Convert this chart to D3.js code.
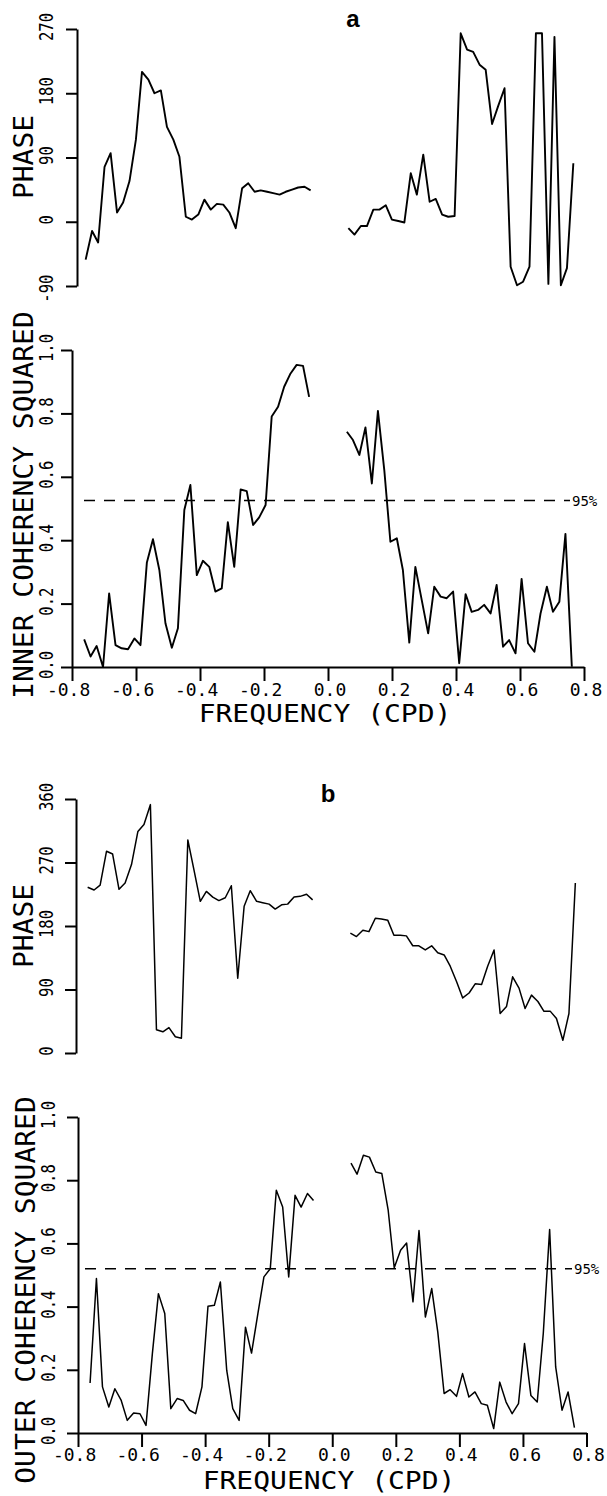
<!DOCTYPE html>
<html>
<head>
<meta charset="utf-8">
<script src="https://cdn.jsdelivr.net/npm/d3@7"></script>
<style>
  html, body { margin: 0; padding: 0; background: #fff; }
  svg { display: block; }
  text { font-family: "DejaVu Sans Mono", monospace; fill: #000; }
</style>
</head>
<body>
<svg id="chart" width="607" height="1496"></svg>
<script>
// frequency grid (cycles per day), negative and positive halves
const freqNeg = [-0.762, -0.742, -0.723, -0.703, -0.684, -0.664, -0.645, -0.625, -0.605, -0.586,
  -0.566, -0.547, -0.527, -0.508, -0.488, -0.469, -0.449, -0.430, -0.410, -0.391, -0.371, -0.352,
  -0.332, -0.313, -0.293, -0.273, -0.254, -0.234, -0.215, -0.195, -0.176, -0.156, -0.137, -0.117,
  -0.098, -0.078, -0.059];
const freqPos = [0.059, 0.078, 0.098, 0.117, 0.137, 0.156, 0.176, 0.195, 0.215, 0.234, 0.254,
  0.273, 0.293, 0.313, 0.332, 0.352, 0.371, 0.391, 0.410, 0.430, 0.449, 0.469, 0.488, 0.508,
  0.527, 0.547, 0.566, 0.586, 0.605, 0.625, 0.645, 0.664, 0.684, 0.703, 0.723, 0.742, 0.762];

// panel a : phase (degrees) and inner coherency squared
const phaseANeg = [-53, -13, -29, 77, 96, 13, 27, 57, 115, 210, 199, 180, 184, 133, 115, 91, 7, 3,
  10, 31, 17, 25, 24, 13, -9, 47, 54, 42, 44, 42, 40, 38, 42, 45, 48, 49, 44];
const phaseAPos = [-9, -18, -6, -6, 17, 17, 23, 3, 1, -1, 68, 38, 94, 28, 32, 10, 7, 8, 264, 241,
  238, 220, 213, 137, 162, 187, -63, -89, -84, -63, 264, 264, -87, 259, -89, -65, 82];
const cohANeg = [0.087, 0.033, 0.066, 0.0, 0.232, 0.069, 0.059, 0.056, 0.09, 0.069, 0.33, 0.403,
  0.306, 0.138, 0.061, 0.122, 0.495, 0.574, 0.29, 0.335, 0.316, 0.238, 0.248, 0.457, 0.316, 0.56,
  0.555, 0.448, 0.472, 0.511, 0.79, 0.821, 0.884, 0.926, 0.953, 0.95, 0.852];
const cohAPos = [0.742, 0.716, 0.669, 0.756, 0.579, 0.808, 0.62, 0.395, 0.406, 0.306, 0.077, 0.316,
  0.211, 0.106, 0.253, 0.222, 0.217, 0.238, 0.012, 0.23, 0.174, 0.18, 0.196, 0.169, 0.259, 0.064,
  0.085, 0.043, 0.278, 0.075, 0.048, 0.168, 0.253, 0.174, 0.206, 0.42, 0.001];

// panel b : phase (degrees) and outer coherency squared
const phaseBNeg = [235, 231, 238, 286, 282, 232, 241, 267, 314, 324, 352, 33, 30, 36, 23, 21, 302,
  260, 215, 229, 221, 216, 220, 237, 106, 208, 230, 215, 213, 211, 204, 210, 211, 221, 222, 225, 217];
const phaseBPos = [170, 165, 174, 172, 191, 190, 188, 167, 167, 166, 152, 152, 146, 152, 142, 139,
  123, 101, 78, 85, 98, 97, 123, 146, 56, 66, 108, 92, 63, 82, 73, 59, 59, 49, 18, 56, 241];
const cohBNeg = [0.158, 0.489, 0.146, 0.082, 0.14, 0.103, 0.04, 0.063, 0.061, 0.024, 0.251, 0.441,
  0.378, 0.077, 0.109, 0.103, 0.072, 0.061, 0.146, 0.401, 0.404, 0.478, 0.198, 0.077, 0.04, 0.335,
  0.253, 0.378, 0.494, 0.52, 0.768, 0.715, 0.494, 0.752, 0.715, 0.758, 0.736];
const cohBPos = [0.854, 0.819, 0.879, 0.873, 0.826, 0.821, 0.705, 0.523, 0.578, 0.601, 0.415, 0.641,
  0.367, 0.457, 0.32, 0.125, 0.137, 0.116, 0.188, 0.114, 0.13, 0.093, 0.088, 0.014, 0.161, 0.098,
  0.061, 0.093, 0.283, 0.119, 0.098, 0.315, 0.644, 0.209, 0.072, 0.13, 0.017];

// tick labels
const phaseTicksA = [-90, 0, 90, 180, 270];
const phaseTicksB = [0, 90, 180, 270, 360];
const cohTicks = [0, 0.2, 0.4, 0.6, 0.8, 1.0];
const freqTicks = [-0.8, -0.6, -0.4, -0.2, 0, 0.2, 0.4, 0.6, 0.8];
const sigA = 0.525, sigB = 0.52; // 95% significance level

const svg = d3.select("#chart");

const monoAdv = 0.602; // advance width of DejaVu Sans Mono per em

// y-axis: minor and major ticks get their own length, labels rotated
const drawYAxis = (g, y, axisX, major, minor, fmt, labelX) => {
  const ax = g.append("g").attr("transform", `translate(${axisX},0)`);
  ax.call(d3.axisLeft(y).tickValues(minor).tickSize(6).tickSizeOuter(0).tickFormat(""));
  ax.call(d3.axisLeft(y).tickValues(major).tickSize(11).tickSizeOuter(0).tickFormat(""));
  ax.selectAll("path, line").attr("stroke", "#000").attr("stroke-width", 2);
  ax.selectAll("text").remove();

  const fs = 20, sx = 0.78;
  g.selectAll(null)
    .data(major)
    .join("text")
    .attr("transform", d => `translate(${labelX},${y(d) - 2}) rotate(-90) scale(${sx},1)`)
    .attr("x", d => fmt(d).replace("-", "").length * fs * monoAdv / 2)
    .attr("text-anchor", "end")
    .attr("font-size", fs)
    .text(fmt);
};

const drawXAxis = (g, x, axisY, labelY) => {
  const minor = d3.range(-8, 9).map(d => d / 10);
  const ax = g.append("g").attr("transform", `translate(0,${axisY})`);
  ax.call(d3.axisBottom(x).tickValues(minor).tickSize(7).tickSizeOuter(0).tickFormat(""));
  ax.call(d3.axisBottom(x).tickValues(freqTicks).tickSize(14).tickSizeOuter(0).tickFormat(""));
  ax.selectAll("path, line").attr("stroke", "#000").attr("stroke-width", 2);

  const fs = 18;
  g.selectAll(null)
    .data(freqTicks)
    .join("text")
    .attr("x", d => x(d) + 1.5 * fs * monoAdv + 2)
    .attr("y", labelY)
    .attr("text-anchor", "end")
    .attr("font-size", fs)
    .text(d => d3.format(".1f")(d).replace("−", "-"));
};

const drawSeries = (g, x, y, freqs, vals, width) => {
  const line = d3.line().x(d => x(d[0])).y(d => y(d[1]));
  g.append("path")
    .datum(d3.zip(freqs, vals))
    .attr("d", line)
    .attr("fill", "none")
    .attr("stroke", "#000")
    .attr("stroke-width", width)
    .attr("stroke-linejoin", "round");
};

const axisTitle = (g, text, x, yc) => {
  g.append("text")
    .attr("transform", `translate(${x},${yc}) rotate(-90) scale(1,0.92)`)
    .attr("text-anchor", "middle")
    .attr("font-size", 28)
    .text(text);
};

const freqTitle = (g, x, y) => {
  g.append("text")
    .attr("transform", `translate(${x},${y}) scale(1,0.88)`)
    .attr("text-anchor", "middle")
    .attr("font-size", 28)
    .text("FREQUENCY (CPD)");
};

const panelLetter = (text, x, y) => {
  svg.append("text")
    .attr("x", x).attr("y", y)
    .attr("text-anchor", "middle")
    .style("font-family", "'Liberation Sans', Arial, sans-serif")
    .style("font-weight", "bold")
    .attr("font-size", 24)
    .text(text);
};

const sigLine = (g, y, level, x0, x1) => {
  g.append("line")
    .attr("x1", x0).attr("x2", x1)
    .attr("y1", y(level)).attr("y2", y(level))
    .attr("stroke", "#000")
    .attr("stroke-width", 1.5)
    .attr("stroke-dasharray", "11,9");
  g.append("text")
    .attr("x", x1 + 2).attr("y", y(level) + 5)
    .attr("font-size", 14)
    .text("95%");
};

const fmtPhase = d => String(d);
const fmtCoh = d => d3.format(".1f")(d);
const minorPhaseA = d3.range(-90, 271, 45);
const minorPhaseB = d3.range(0, 361, 45);
const minorCoh = d3.range(0, 11).map(d => d / 10);

// ---------- panel a ----------
const gA = svg.append("g");
panelLetter("a", 353, 27);

const xPhaseA = d3.scaleLinear().domain([-0.8, 0.8]).range([73.5, 585.5]);
const yPhaseA = d3.scaleLinear().domain([-90, 270]).range([286, 29]);
drawYAxis(gA, yPhaseA, 77, phaseTicksA, minorPhaseA, fmtPhase, 53);
axisTitle(gA, "PHASE", 33, 157);
drawSeries(gA, xPhaseA, yPhaseA, freqNeg, phaseANeg, 1.9);
drawSeries(gA, xPhaseA, yPhaseA, freqPos, phaseAPos, 1.9);

const xCohA = d3.scaleLinear().domain([-0.8, 0.8]).range([72, 584]);
const yCohA = d3.scaleLinear().domain([0, 1]).range([667, 350]);
drawYAxis(gA, yCohA, 72, cohTicks, minorCoh, fmtCoh, 53);
drawXAxis(gA, xCohA, 667, 696);
axisTitle(gA, "INNER COHERENCY SQUARED", 33, 505);
sigLine(gA, yCohA, sigA, 84, 570);
drawSeries(gA, xCohA, yCohA, freqNeg, cohANeg, 1.9);
drawSeries(gA, xCohA, yCohA, freqPos, cohAPos, 1.9);
freqTitle(gA, 325, 722);

// ---------- panel b ----------
const gB = svg.append("g");
panelLetter("b", 328, 802);

const xPhaseB = d3.scaleLinear().domain([-0.8, 0.8]).range([75.5, 587.5]);
const yPhaseB = d3.scaleLinear().domain([0, 360]).range([1053, 799]);
drawYAxis(gB, yPhaseB, 76, phaseTicksB, minorPhaseB, fmtPhase, 53);
axisTitle(gB, "PHASE", 33, 926);
drawSeries(gB, xPhaseB, yPhaseB, freqNeg, phaseBNeg, 1.5);
drawSeries(gB, xPhaseB, yPhaseB, freqPos, phaseBPos, 1.5);

const xCohB = d3.scaleLinear().domain([-0.8, 0.8]).range([78, 586.5]);
const yCohB = d3.scaleLinear().domain([0, 1]).range([1433, 1117]);
drawYAxis(gB, yCohB, 78, cohTicks, minorCoh, fmtCoh, 55);
drawXAxis(gB, xCohB, 1433, 1461);
axisTitle(gB, "OUTER COHERENCY SQUARED", 35, 1290);
sigLine(gB, yCohB, sigB, 85, 572);
drawSeries(gB, xCohB, yCohB, freqNeg, cohBNeg, 1.5);
drawSeries(gB, xCohB, yCohB, freqPos, cohBPos, 1.5);
freqTitle(gB, 329, 1489);
</script>
</body>
</html>
